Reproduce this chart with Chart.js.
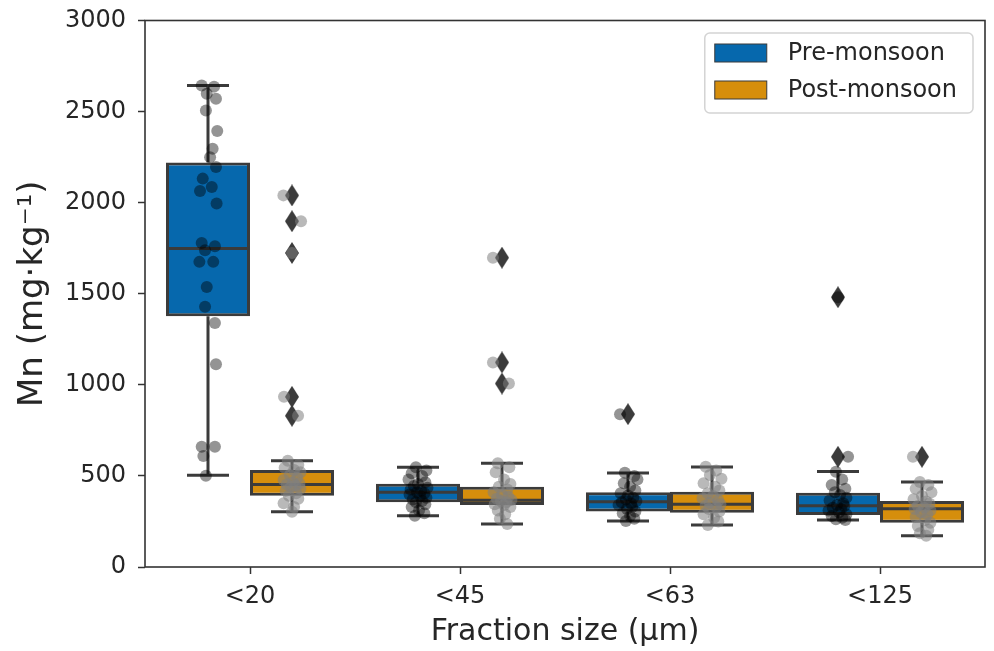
<!DOCTYPE html>
<html>
<head>
<meta charset="utf-8">
<script src="https://cdn.jsdelivr.net/npm/chart.js@4.4.1/dist/chart.umd.min.js"></script>
<style>
  html, body { margin: 0; padding: 0; background: #fff; }
  #chart { display: block; }
</style>
</head>
<body>
<canvas id="chart" width="994" height="651"></canvas>
<script>
const categories = ['<20', '<45', '<63', '<125'];
const seasons = ['Pre-monsoon', 'Post-monsoon'];

// [whisker low, q1, median, q3, whisker high]
const preBoxes = [
  [503, 1377, 1748, 2220, 2643],
  [281, 356, 410, 457, 547],
  [252, 305, 358, 411, 516],
  [258, 286, 336, 408, 524],
];
const postBoxes = [
  [303, 391, 453, 532, 583],
  [236, 340, 366, 440, 569],
  [230, 298, 345, 413, 549],
  [171, 243, 320, 362, 467],
];

const preOutliers = [[], [], [839], [1481, 605]];
const postOutliers = [[2040, 1898, 1724, 934, 830], [1698, 1123, 1007], [], [605]];

// single samples (strip points) and their jitter, in category units
const preSamples = [
  [2643, 2637, 2598, 2571, 2506, 2393, 2296, 2250, 2196, 2132, 2086, 2064, 1995, 1779, 1761, 1739, 1675, 1675, 1537, 1428, 1340, 1113, 660, 660, 609, 501],
  [547, 530, 515, 500, 480, 465, 455, 445, 435, 425, 418, 410, 405, 398, 390, 380, 370, 362, 355, 345, 330, 310, 295, 281],
  [839, 517, 500, 480, 460, 440, 420, 405, 392, 380, 370, 362, 355, 348, 340, 330, 318, 305, 295, 280, 265, 252],
  [1481, 605, 523, 480, 450, 430, 410, 395, 380, 365, 350, 340, 335, 325, 318, 310, 300, 290, 280, 270, 262, 258],
];
const preJitter = [
  [-0.03, 0.029, -0.006, 0.038, -0.01, 0.044, 0.022, 0.01, 0.038, -0.025, 0.018, -0.038, 0.041, -0.03, 0.033, -0.014, -0.041, 0.025, -0.006, -0.014, 0.033, 0.038, -0.03, 0.033, -0.022, -0.01],
  [-0.01, 0.04, -0.03, 0.02, -0.045, 0.035, 0, -0.02, 0.045, -0.035, 0.015, -0.005, 0.03, -0.04, 0.01, 0.04, -0.025, 0.02, -0.01, 0.035, -0.03, 0.005, 0.03, -0.015],
  [-0.038, -0.015, 0.03, 0.045, -0.02, 0.01, 0.035, -0.035, 0, 0.025, -0.01, 0.04, -0.03, 0.015, -0.045, 0.02, -0.005, 0.035, -0.025, 0.01, 0.03, -0.01],
  [0, 0.048, -0.01, 0.02, -0.03, 0.035, -0.015, 0.01, 0.04, -0.04, 0.025, -0.005, 0.03, -0.025, 0.015, -0.045, 0.005, 0.04, -0.03, 0.02, -0.01, 0.035],
];
const postSamples = [
  [2040, 1898, 1724, 934, 830, 583, 560, 545, 532, 520, 505, 490, 478, 465, 458, 453, 447, 440, 430, 418, 405, 391, 375, 350, 330, 303],
  [1698, 1123, 1007, 569, 548, 520, 480, 455, 440, 425, 410, 395, 385, 375, 368, 362, 355, 345, 340, 330, 310, 290, 265, 236],
  [550, 530, 505, 485, 460, 440, 420, 405, 390, 378, 365, 352, 345, 338, 330, 318, 305, 290, 270, 250, 230],
  [605, 467, 450, 430, 410, 390, 372, 360, 348, 335, 325, 318, 310, 300, 290, 275, 258, 243, 225, 205, 185, 171],
];
const postJitter = [
  [-0.041, 0.043, 0, -0.038, 0.029, -0.02, 0.03, -0.035, 0.01, 0.04, -0.01, 0.025, -0.04, 0.005, 0.035, -0.025, 0.015, -0.005, 0.04, -0.03, 0.02, -0.015, 0.03, -0.04, 0.01, 0],
  [-0.043, -0.043, 0.033, -0.02, 0.035, -0.03, 0.01, 0.04, -0.015, 0.025, -0.04, 0, 0.03, -0.025, 0.045, -0.005, 0.02, -0.035, 0.01, 0.04, -0.02, 0.015, -0.01, 0.025],
  [-0.03, 0.02, -0.01, 0.045, -0.04, 0.015, 0.035, -0.02, 0.005, -0.045, 0.03, -0.01, 0.04, -0.03, 0.02, -0.015, 0.035, -0.04, 0.01, 0.03, -0.02],
  [-0.043, -0.01, 0.03, -0.03, 0.045, 0, -0.04, 0.02, 0.035, -0.02, 0.01, -0.035, 0.04, -0.005, 0.025, -0.03, 0.015, 0.04, -0.02, 0.03, -0.01, 0.02],
];

const BLUE = '#0668ad';
const ORANGE = '#d68e0c';
const EDGE = '#3b3b3b';
const TEXT = '#262626';
const FONT = 'DejaVu Sans';
const DODGE = 0.2; // half of a hue slot, in category units

const boxData = (boxes) => boxes.map((b, i) => ({ x: i, y: [b[1], b[3]] }));

const outlierData = (outliers, side) => {
    const pts = [];
    outliers.forEach((vals, i) => vals.forEach((v) => pts.push({ x: i + side * DODGE, y: v })));
    return pts;
};

const stripData = (samples, jitter, side) => {
    const pts = [];
    samples.forEach((vals, i) => vals.forEach((v, k) => pts.push({ x: i + side * DODGE + jitter[i][k], y: v })));
    return pts;
};

function thinDiamond(w, h, color) {
    const c = document.createElement('canvas');
    c.width = w;
    c.height = h;
    const g = c.getContext('2d');
    g.fillStyle = color;
    g.beginPath();
    g.moveTo(w / 2, 0);
    g.lineTo(w, h / 2);
    g.lineTo(w / 2, h);
    g.lineTo(0, h / 2);
    g.closePath();
    g.fill();
    return c;
}

const diamond = thinDiamond(14, 22, EDGE);

// whiskers, caps and median lines drawn right after each box dataset
const boxLines = {
    id: 'boxLines',
    afterDatasetDraw(chart, args) {
        const stats = chart.data.datasets[args.index].boxStats;
        if (!stats) return;
        const y = chart.scales.y;
        const ctx = chart.ctx;
        ctx.save();
        ctx.strokeStyle = EDGE;
        ctx.lineWidth = 3;
        args.meta.data.forEach((bar, i) => {
            const [lo, q1, med, q3, hi] = stats[i].map((v) => y.getPixelForValue(v));
            const half = bar.width / 2;
            const cap = bar.width / 4;
            ctx.beginPath();
            ctx.moveTo(bar.x, q3);
            ctx.lineTo(bar.x, hi);
            ctx.moveTo(bar.x, q1);
            ctx.lineTo(bar.x, lo);
            ctx.moveTo(bar.x - cap, hi);
            ctx.lineTo(bar.x + cap, hi);
            ctx.moveTo(bar.x - cap, lo);
            ctx.lineTo(bar.x + cap, lo);
            ctx.moveTo(bar.x - half + 1.5, med);
            ctx.lineTo(bar.x + half - 1.5, med);
            ctx.stroke();
        });
        ctx.restore();
    },
};

const frame = {
    id: 'frame',
    afterDatasetsDraw(chart) {
        const { left, top, right, bottom } = chart.chartArea;
        const ctx = chart.ctx;
        ctx.save();
        ctx.strokeStyle = '#333';
        ctx.lineWidth = 1.6;
        ctx.strokeRect(left, top, right - left, bottom - top);
        ctx.restore();
    },
};

const boxLegend = {
    id: 'boxLegend',
    afterDraw(chart) {
        const ctx = chart.ctx;
        const area = chart.chartArea;
        const items = chart.data.datasets.filter((d) => d.boxStats);
        ctx.save();
        ctx.font = `24px "${FONT}"`;
        const textW = Math.max(...items.map((d) => ctx.measureText(d.label).width));
        const w = 10 + 52 + 21 + textW + 16;
        const h = 80;
        const x0 = area.right - 12 - w;
        const y0 = area.top + 12.5;

        ctx.beginPath();
        ctx.roundRect(x0, y0, w, h, 5);
        ctx.fillStyle = 'rgba(255,255,255,0.8)';
        ctx.fill();
        ctx.strokeStyle = '#d4d4d4';
        ctx.lineWidth = 1.5;
        ctx.stroke();

        items.forEach((d, i) => {
            const cy = y0 + 20 + i * 37;
            ctx.fillStyle = d.backgroundColor;
            ctx.fillRect(x0 + 10, cy - 9, 52, 18);
            ctx.strokeStyle = EDGE;
            ctx.lineWidth = 1;
            ctx.strokeRect(x0 + 10, cy - 9, 52, 18);
            ctx.fillStyle = TEXT;
            ctx.textBaseline = 'middle';
            ctx.fillText(d.label, x0 + 83, cy + 1);
        });
        ctx.restore();
    },
};

const tickFont = { family: FONT, size: 24 };

new Chart(document.getElementById('chart'), {
    type: 'bar',
    data: {
        datasets: [
            {
                label: seasons[0],
                data: boxData(preBoxes),
                boxStats: preBoxes,
                backgroundColor: BLUE,
                borderColor: EDGE,
                borderWidth: 3,
                borderSkipped: false,
                barPercentage: 1,
                categoryPercentage: 0.8,
                order: 3,
            },
            {
                label: seasons[1],
                data: boxData(postBoxes),
                boxStats: postBoxes,
                backgroundColor: ORANGE,
                borderColor: EDGE,
                borderWidth: 3,
                borderSkipped: false,
                barPercentage: 1,
                categoryPercentage: 0.8,
                order: 4,
            },
            {
                type: 'scatter',
                label: 'outliers',
                data: outlierData(preOutliers, -1).concat(outlierData(postOutliers, 1)),
                pointStyle: diamond,
                order: 2,
            },
            {
                type: 'scatter',
                label: 'pre samples',
                data: stripData(preSamples, preJitter, -1),
                pointRadius: 6,
                backgroundColor: 'rgba(0,0,0,0.42)',
                borderWidth: 0,
                order: 1,
            },
            {
                type: 'scatter',
                label: 'post samples',
                data: stripData(postSamples, postJitter, 1),
                pointRadius: 6,
                backgroundColor: 'rgba(128,128,128,0.55)',
                borderWidth: 0,
                order: 0,
            },
        ],
    },
    options: {
        responsive: false,
        animation: false,
        devicePixelRatio: 1,
        layout: { padding: { top: 20.5, right: 9, left: 0, bottom: 0 } },
        plugins: {
            legend: { display: false },
            tooltip: { enabled: false },
        },
        scales: {
            x: {
                type: 'linear',
                min: -0.5,
                max: 3.5,
                offset: false,
                afterBuildTicks: (scale) => {
                    scale.ticks = categories.map((c, i) => ({ value: i }));
                },
                afterFit: (scale) => {
                    scale.height = 84;
                    scale.paddingLeft = 0;
                    scale.paddingRight = 0;
                },
                ticks: {
                    callback: (value) => categories[value],
                    color: TEXT,
                    font: tickFont,
                    padding: 8,
                    maxRotation: 0,
                    autoSkip: false,
                },
                grid: {
                    display: true,
                    offset: false,
                    drawOnChartArea: false,
                    drawTicks: true,
                    tickLength: 7,
                    tickColor: '#333',
                    tickWidth: 1.5,
                },
                border: { display: false },
                title: {
                    display: true,
                    text: 'Fraction size (μm)',
                    color: TEXT,
                    font: { family: FONT, size: 30 },
                    padding: { top: 0, bottom: 1 },
                },
            },
            y: {
                min: 0,
                max: 3000,
                afterFit: (scale) => {
                    scale.width = 145;
                    scale.paddingTop = 0;
                    scale.paddingBottom = 0;
                },
                ticks: {
                    stepSize: 500,
                    callback: (value) => String(value),
                    color: TEXT,
                    font: tickFont,
                    padding: 12,
                },
                grid: {
                    display: true,
                    drawOnChartArea: false,
                    drawTicks: true,
                    tickLength: 7,
                    tickColor: '#333',
                    tickWidth: 1.5,
                },
                border: { display: false },
                title: {
                    display: true,
                    text: 'Mn (mg·kg⁻¹)',
                    color: TEXT,
                    font: { family: FONT, size: 34 },
                    padding: { top: 13, bottom: 0 },
                },
            },
        },
    },
    plugins: [boxLines, frame, boxLegend],
});
</script>
</body>
</html>
